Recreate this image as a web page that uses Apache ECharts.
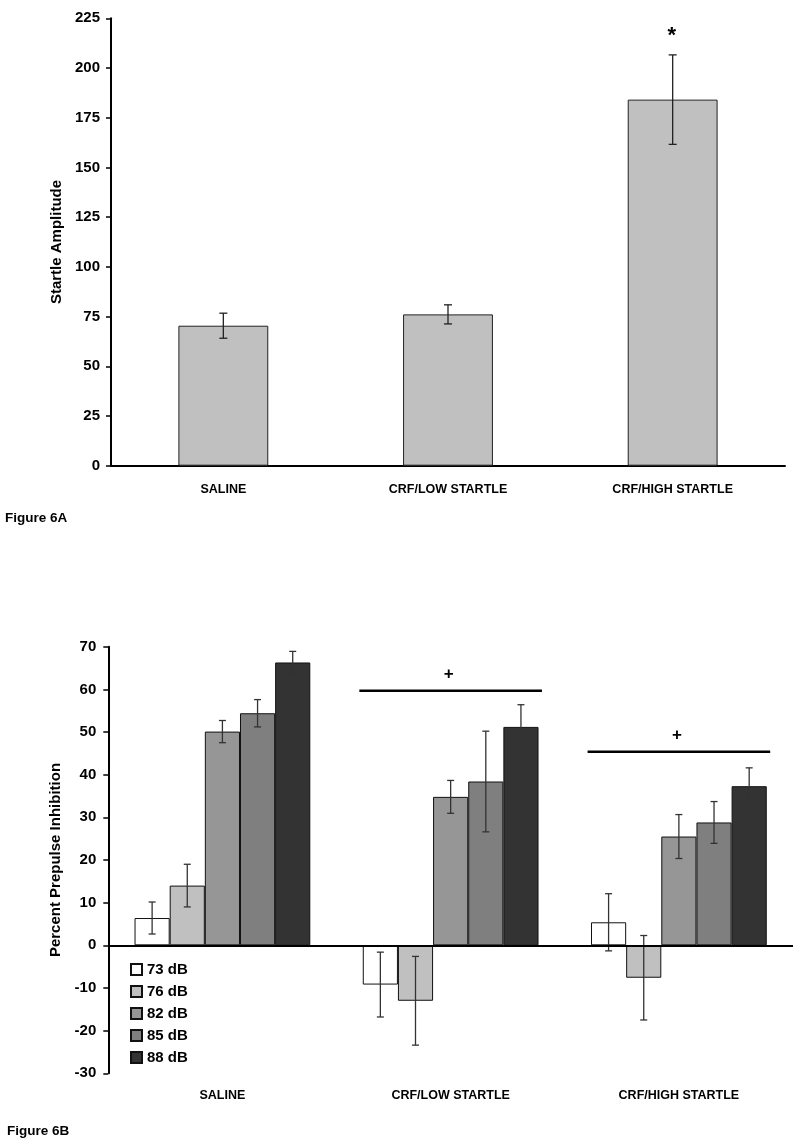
<!DOCTYPE html>
<html>
<head>
<meta charset="utf-8">
<script src="https://cdn.jsdelivr.net/npm/echarts@6/dist/echarts.min.js"></script>
<style>
html,body{margin:0;padding:0;background:#fff;}
#chart{width:800px;height:1146px;}
</style>
</head>
<body>
<div id="chart"></div>
<script>
// ---------- data ----------
const categories = ['SALINE', 'CRF/LOW STARTLE', 'CRF/HIGH STARTLE'];

// Figure 6A
const startleMean = [70.4, 76.1, 184.1];
const startleSem  = [6.3, 4.8, 22.5];
const startleSig  = ['', '', '*'];

// Figure 6B
const dbLevels = ['73 dB', '76 dB', '82 dB', '85 dB', '88 dB'];
const ppi73 = [6.4, -9.2, 5.4];
const ppi76 = [14.0, -13.0, -7.6];
const ppi82 = [50.1, 34.8, 25.5];
const ppi85 = [54.4, 38.4, 28.8];
const ppi88 = [66.3, 51.2, 37.3];
const sem73 = [3.75, 7.6, 6.7];
const sem76 = [5.0, 10.4, 9.9];
const sem82 = [2.6, 3.85, 5.15];
const sem85 = [3.2, 11.8, 4.9];
const sem88 = [2.6, 5.2, 4.3];
const sigCategory = [1, 2];
const sigLevel = [59.7, 45.4];
const sigMark = ['+', '+'];

// ---------- style ----------
const FONT = "'Liberation Sans', Arial, sans-serif";
const levelColors = ['#ffffff', '#c0c0c0', '#969696', '#7f7f7f', '#333333'];
const ppiMeans = [ppi73, ppi76, ppi82, ppi85, ppi88];
const ppiSems = [sem73, sem76, sem82, sem85, sem88];
const GROUP_FRAC = 0.77;

function errRenderer(levelIdx, nLevels, groupFrac, capHalf, color, width) {
  return function (params, api) {
    const cat = api.value(0), lo = api.value(1), hi = api.value(2);
    const band = api.size([1, 0])[0];
    const barW = band * groupFrac / nLevels;
    const cx = api.coord([cat, 0])[0] + (levelIdx - (nLevels - 1) / 2) * barW;
    const yLo = api.coord([cat, lo])[1];
    const yHi = api.coord([cat, hi])[1];
    const st = { stroke: color, lineWidth: width };
    return {
      type: 'group',
      children: [
        { type: 'line', shape: { x1: cx, y1: yLo, x2: cx, y2: yHi }, style: st },
        { type: 'line', shape: { x1: cx - capHalf, y1: yHi, x2: cx + capHalf, y2: yHi }, style: st },
        { type: 'line', shape: { x1: cx - capHalf, y1: yLo, x2: cx + capHalf, y2: yLo }, style: st }
      ]
    };
  };
}

const series = [];

// Top chart bars
series.push({
  type: 'bar', xAxisIndex: 0, yAxisIndex: 0,
  data: startleMean,
  barCategoryGap: '60%',
  itemStyle: { color: '#c0c0c0', borderColor: '#222', borderWidth: 1 },
  silent: true
});
series.push({
  type: 'custom', xAxisIndex: 0, yAxisIndex: 0,
  data: categories.map((c, i) => [i, startleMean[i] - startleSem[i], startleMean[i] + startleSem[i]]),
  encode: { x: 0, y: [1, 2] },
  renderItem: errRenderer(0, 1, 0.4, 4, '#222', 1.3),
  silent: true, z: 5
});
series.push({
  type: 'custom', xAxisIndex: 0, yAxisIndex: 0,
  data: categories.map((c, i) => [i, startleMean[i] + startleSem[i]]),
  encode: { x: 0, y: 1 },
  renderItem: function (params, api) {
    const mark = startleSig[params.dataIndex];
    if (!mark) return null;
    const p = api.coord([api.value(0), api.value(1)]);
    return {
      type: 'text',
      style: { text: mark, x: p[0] - 1, y: p[1] - 19, fontSize: 22, fontWeight: 'bold',
               fontFamily: FONT, fill: '#000', align: 'center', verticalAlign: 'middle' }
    };
  },
  silent: true
});

// Bottom chart bars
dbLevels.forEach((name, k) => {
  const s = {
    name: name, type: 'bar', xAxisIndex: 1, yAxisIndex: 1,
    data: ppiMeans[k],
    barGap: '0%', barCategoryGap: '23%',
    itemStyle: { color: levelColors[k], borderColor: '#111', borderWidth: 1 },
    silent: true
  };
  if (k === 0) {
    s.markLine = {
      silent: true, symbol: 'none', label: { show: false },
      lineStyle: { color: '#000', width: 2, type: 'solid' },
      data: [{ yAxis: 0 }],
      z: 10
    };
  }
  series.push(s);
});
dbLevels.forEach((name, k) => {
  series.push({
    type: 'custom', xAxisIndex: 1, yAxisIndex: 1,
    data: categories.map((c, i) => [i, ppiMeans[k][i] - ppiSems[k][i], ppiMeans[k][i] + ppiSems[k][i]]),
    encode: { x: 0, y: [1, 2] },
    renderItem: errRenderer(k, dbLevels.length, GROUP_FRAC, 3.5, '#333', 1.3),
    silent: true, z: 5
  });
});
// significance lines
series.push({
  type: 'custom', xAxisIndex: 1, yAxisIndex: 1,
  data: sigCategory.map((c, i) => [c, sigLevel[i]]),
  encode: { x: 0, y: 1 },
  renderItem: function (params, api) {
    const band = api.size([1, 0])[0];
    const p = api.coord([api.value(0), api.value(1)]);
    const half = band * 0.4;
    return {
      type: 'group',
      children: [
        { type: 'line', shape: { x1: p[0] - half, y1: p[1], x2: p[0] + half, y2: p[1] },
          style: { stroke: '#000', lineWidth: 2.5 } },
        { type: 'text', style: { text: sigMark[params.dataIndex], x: p[0] - 2, y: p[1] - 16,
          fontSize: 17, fontWeight: 'bold', fontFamily: FONT, fill: '#000',
          align: 'center', verticalAlign: 'middle' } }
      ]
    };
  },
  silent: true
});

const axisLabelY = { color: '#000', fontSize: 15, fontWeight: 'bold', fontFamily: FONT };
const axisLabelX = { color: '#000', fontSize: 12.5, fontWeight: 'bold', fontFamily: FONT };

const option = {
  animation: false,
  backgroundColor: '#fff',
  textStyle: { fontFamily: FONT },
  grid: [
    { left: 111, right: 15, top: 18.3, bottom: 680.3, containLabel: false },
    { left: 108.3, right: 7, top: 646.7, bottom: 72.7, containLabel: false }
  ],
  xAxis: [
    {
      type: 'category', gridIndex: 0, data: categories,
      axisLine: { show: true, lineStyle: { color: '#000', width: 2 } },
      axisTick: { show: false },
      axisLabel: Object.assign({ margin: 17 }, axisLabelX),
      splitLine: { show: false }
    },
    {
      type: 'category', gridIndex: 1, data: categories,
      axisLine: { show: false, onZero: false },
      axisTick: { show: false },
      axisLabel: Object.assign({ margin: 16 }, axisLabelX),
      splitLine: { show: false }
    }
  ],
  yAxis: [
    {
      type: 'value', gridIndex: 0, min: 0, max: 225, interval: 25,
      name: 'Startle Amplitude', nameLocation: 'middle', nameGap: 46,
      nameTextStyle: { color: '#000', fontSize: 15, fontWeight: 'bold', fontFamily: FONT },
      axisLine: { show: true, lineStyle: { color: '#000', width: 2 } },
      axisTick: { show: true, length: 5, lineStyle: { color: '#000', width: 1.5 } },
      axisLabel: Object.assign({ margin: 11 }, axisLabelY),
      splitLine: { show: false }
    },
    {
      type: 'value', gridIndex: 1, min: -30, max: 70, interval: 10,
      name: 'Percent Prepulse Inhibition', nameLocation: 'middle', nameGap: 44,
      nameTextStyle: { color: '#000', fontSize: 15, fontWeight: 'bold', fontFamily: FONT },
      axisLine: { show: true, lineStyle: { color: '#000', width: 2 } },
      axisTick: { show: true, length: 5, lineStyle: { color: '#000', width: 1.5 } },
      axisLabel: Object.assign({ margin: 12 }, axisLabelY),
      splitLine: { show: false }
    }
  ],
  legend: {
    data: dbLevels,
    orient: 'vertical',
    left: 125, top: 957,
    itemWidth: 11, itemHeight: 11, itemGap: 7,
    icon: 'rect',
    selectedMode: false,
    textStyle: { color: '#000', fontSize: 15, fontWeight: 'bold', fontFamily: FONT, lineHeight: 15 }
  },
  graphic: [
    { type: 'text', left: 5, top: 511,
      style: { text: 'Figure 6A', fontSize: 13.5, fontWeight: 'bold', fontFamily: FONT, fill: '#000' } },
    { type: 'text', left: 7, top: 1124,
      style: { text: 'Figure 6B', fontSize: 13.5, fontWeight: 'bold', fontFamily: FONT, fill: '#000' } }
  ],
  series: series
};

const chart = echarts.init(document.getElementById('chart'), null, { renderer: 'canvas' });
chart.setOption(option);
</script>
</body>
</html>
